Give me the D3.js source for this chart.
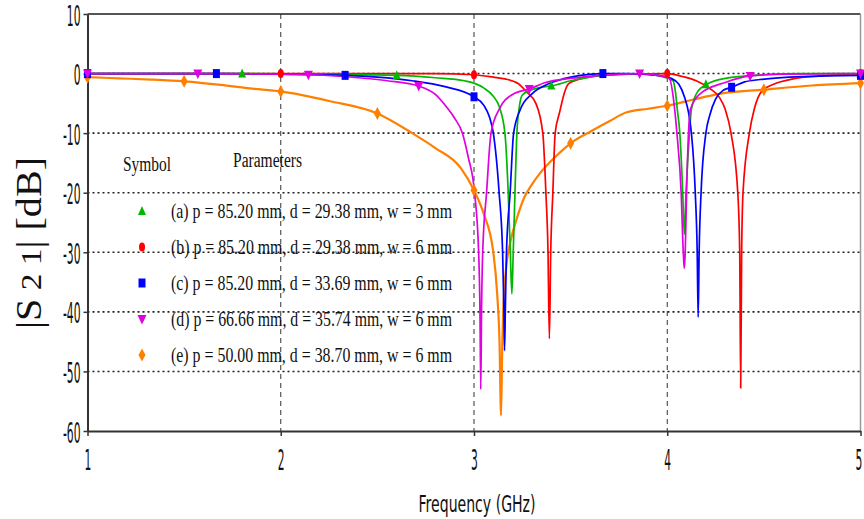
<!DOCTYPE html>
<html>
<head>
<meta charset="utf-8">
<script src="https://cdn.jsdelivr.net/npm/d3@7"></script>
<style>
  html, body { margin: 0; padding: 0; background: #fff; }
  svg { display: block; }
</style>
</head>
<body>
<svg id="chart" width="864" height="519"></svg>
<script>
// |S21| transmission curves (dB) versus frequency (GHz)
const xTicks = [1, 2, 3, 4, 5];
const yTicks = [10, 0, -10, -20, -30, -40, -50, -60];
const gridY = [0, -10, -20, -30, -40, -50];
const gridX = [2, 3, 4];

const seriesA = [[1.0,0],[1.8,0],[2.2,-0.1],[2.6,-0.3],[2.8,-0.7],[2.95,-1.2],[3.0,-1.6],[3.05,-2.4],[3.1,-3.8],[3.13,-5.5],[3.16,-10],[3.177,-20],[3.188,-30],[3.196,-37],[3.203,-30],[3.212,-20],[3.222,-10],[3.235,-5.5],[3.25,-3.6],[3.3,-2.7],[3.35,-2.3],[3.41,-2.0],[3.5,-1.2],[3.6,-0.6],[3.75,-0.1],[3.9,-0.1],[3.97,-0.5],[4.03,-1.2],[4.042,-3],[4.052,-6],[4.065,-10],[4.08,-20],[4.088,-27],[4.097,-20],[4.115,-10],[4.125,-6],[4.16,-2.9],[4.21,-1.7],[4.3,-0.8],[4.5,-0.2],[4.7,0],[5.0,0]];

const seriesB = [[1.0,0],[2.0,0],[2.8,0],[3.0,-0.2],[3.1,-0.6],[3.16,-0.9],[3.23,-1.7],[3.27,-3],[3.32,-5],[3.356,-10],[3.372,-20],[3.383,-30],[3.39,-44.5],[3.397,-30],[3.408,-20],[3.42,-10],[3.443,-6.5],[3.47,-3],[3.49,-1.7],[3.55,-0.9],[3.61,-0.5],[3.8,-0.1],[4.0,0],[4.08,-0.5],[4.15,-1.2],[4.22,-2.5],[4.27,-4],[4.3,-6],[4.33,-10],[4.365,-20],[4.375,-30],[4.38,-52.8],[4.385,-30],[4.392,-20],[4.425,-10],[4.45,-6],[4.49,-2.9],[4.55,-1.8],[4.65,-0.9],[4.8,-0.4],[5.0,0]];

const seriesC = [[1.0,0],[1.667,0],[2.0,-0.1],[2.333,-0.3],[2.5,-0.6],[2.68,-1.2],[2.85,-2.2],[3.0,-3.9],[3.05,-5.3],[3.08,-7.3],[3.1,-10],[3.13,-20],[3.148,-30],[3.155,-40],[3.158,-46.5],[3.162,-40],[3.168,-30],[3.187,-20],[3.205,-10],[3.24,-6],[3.3,-3.4],[3.38,-1.8],[3.46,-0.9],[3.55,-0.3],[3.667,0],[3.8,0],[3.95,-0.3],[4.02,-0.8],[4.06,-1.8],[4.09,-4],[4.11,-6.5],[4.125,-10],[4.145,-20],[4.155,-30],[4.16,-40.9],[4.165,-30],[4.175,-20],[4.2,-10],[4.22,-7],[4.25,-4.3],[4.29,-2.8],[4.333,-2.3],[4.4,-1.4],[4.48,-1.0],[4.7,-0.5],[5.0,-0.3]];

const seriesD = [[1.0,0],[1.571,0],[2.143,-0.2],[2.4,-0.7],[2.55,-1.2],[2.714,-2.1],[2.8,-3.5],[2.86,-5.7],[2.9,-7.5],[2.94,-10],[2.97,-14],[3.003,-20],[3.024,-30],[3.031,-40],[3.035,-53],[3.039,-40],[3.045,-30],[3.065,-20],[3.088,-10],[3.13,-6],[3.2,-3.5],[3.286,-2.6],[3.37,-1.5],[3.5,-0.8],[3.65,-0.3],[3.857,0],[3.95,-0.3],[4.01,-0.8],[4.035,-5],[4.05,-10],[4.072,-20],[4.083,-30],[4.088,-32.7],[4.093,-30],[4.1,-20],[4.11,-10],[4.12,-6],[4.17,-3.4],[4.3,-1.5],[4.429,-0.4],[4.6,-0.1],[5.0,0]];

const seriesE = [[1.0,-0.6],[1.16,-0.8],[1.33,-1.0],[1.5,-1.3],[1.69,-1.9],[1.84,-2.5],[2.0,-3.0],[2.25,-4.6],[2.5,-6.7],[2.68,-10],[2.8,-12.5],[2.93,-15.8],[3.0,-19.6],[3.05,-23.5],[3.1,-30],[3.12,-37],[3.132,-45],[3.14,-57.4],[3.146,-46],[3.152,-39],[3.165,-33],[3.19,-28],[3.22,-24.5],[3.26,-20.8],[3.3,-18.6],[3.34,-16.8],[3.42,-14],[3.5,-11.7],[3.61,-9.6],[3.7,-8],[3.79,-6.5],[3.9,-5.9],[4.0,-5.4],[4.13,-4.4],[4.27,-3.4],[4.5,-2.7],[4.75,-2.0],[5.0,-1.6]];

const markersA = [[1.0,0],[1.8,0],[2.6,-0.3],[3.4,-2.0],[4.2,-1.8],[5.0,0]];
const markersB = [[1,0],[2,0],[3,-0.2],[4,0],[5,0]];
const markersC = [[1,0],[1.667,0],[2.333,-0.3],[3,-3.9],[3.667,0],[4.333,-2.3],[5,-0.3]];
const markersD = [[1,0],[1.571,0],[2.143,-0.2],[2.714,-2.1],[3.286,-2.6],[3.857,0],[4.429,-0.4],[5,0]];
const markersE = [[1,-0.6],[1.5,-1.3],[2,-3.0],[2.5,-6.7],[3,-19.6],[3.5,-11.7],[4,-5.4],[4.5,-2.7],[5,-1.6]];

const legendLabels = [
  "(a) p = 85.20 mm, d = 29.38 mm, w = 3 mm",
  "(b) p = 85.20 mm, d = 29.38 mm, w = 6 mm",
  "(c) p = 85.20 mm, d = 33.69 mm, w = 6 mm",
  "(d) p = 66.66 mm, d = 35.74 mm, w = 6 mm",
  "(e) p = 50.00 mm, d = 38.70 mm, w = 6 mm"
];
const seriesColors = ["#00b800", "#ff0000", "#0000ff", "#e000e0", "#ff8000"];
const markerShapes = ["triUp", "dot", "square", "triDown", "diamond"];

const svg = d3.select("#chart");
const x = d3.scaleLinear().domain([1, 5]).range([87.5, 860.5]);
const y = d3.scaleLinear().domain([-60, 10]).range([431, 14]);

// frame: top border and right border
svg.append("line").attr("x1", x(1)).attr("x2", x(5)).attr("y1", y(10)).attr("y2", y(10))
  .attr("stroke", "#555").attr("stroke-width", 2);
svg.append("line").attr("x1", x(5)).attr("x2", x(5)).attr("y1", y(10)).attr("y2", y(-60))
  .attr("stroke", "#999").attr("stroke-width", 1.5);

// grid
svg.append("g").selectAll("line").data(gridY).join("line")
  .attr("x1", x(1)).attr("x2", x(5)).attr("y1", d => y(d)).attr("y2", d => y(d))
  .attr("stroke", "#222").attr("stroke-width", 1.6).attr("stroke-dasharray", "2,3");
svg.append("g").selectAll("line").data(gridX).join("line")
  .attr("x1", d => x(d)).attr("x2", d => x(d)).attr("y1", y(10)).attr("y2", y(-60))
  .attr("stroke", "#333").attr("stroke-width", 1).attr("stroke-dasharray", "5,4");

// axes; tick labels use a tall, horizontally condensed face
const squeeze = 0.37;
const yAxis = svg.append("g").attr("transform", `translate(${x(1)},0)`)
  .call(d3.axisLeft(y).tickValues(yTicks).tickSize(4).tickSizeOuter(0).tickFormat(d => String(d)));
const xAxis = svg.append("g").attr("transform", `translate(0,${y(-60)})`)
  .call(d3.axisBottom(x).tickValues(xTicks).tickSize(5).tickSizeOuter(0).tickFormat(d => String(d)));
[yAxis, xAxis].forEach(g => {
  g.select(".domain").attr("stroke", "#333").attr("stroke-width", 2);
  g.selectAll(".tick line").attr("stroke", "#333").attr("stroke-width", 1.5);
});
yAxis.selectAll(".tick text")
  .attr("font-family", "DejaVu Sans, sans-serif").attr("font-size", 29).attr("fill", "#111")
  .attr("x", -7 / squeeze).attr("dy", "0.38em")
  .attr("transform", `scale(${squeeze},1)`);
xAxis.selectAll(".tick text")
  .attr("font-family", "DejaVu Sans, sans-serif").attr("font-size", 29).attr("fill", "#111")
  .attr("y", 18).attr("dy", "0.71em")
  .attr("x", d => (d === 5 ? -2 : 0) / squeeze)
  .attr("transform", `scale(${squeeze},1)`);

// axis titles
svg.append("text").attr("x", 477).attr("y", 512).attr("text-anchor", "middle")
  .attr("font-family", "DejaVu Sans, sans-serif").attr("font-size", 23).attr("fill", "#111")
  .attr("textLength", 117).attr("lengthAdjust", "spacingAndGlyphs")
  .text("Frequency (GHz)");

const yTitle = svg.append("text")
  .attr("transform", "translate(41,243) rotate(-90)")
  .attr("text-anchor", "middle")
  .attr("font-family", "Liberation Serif, serif").attr("font-size", 36).attr("fill", "#111")
  .attr("textLength", 172).attr("lengthAdjust", "spacingAndGlyphs");
yTitle.append("tspan").text("|S");
yTitle.append("tspan").attr("font-size", 30).text(" 2 1");
yTitle.append("tspan").text("| [dB]");

// curves
const line = d3.line().x(d => x(d[0])).y(d => y(d[1])).curve(d3.curveMonotoneX);
const allSeries = [seriesA, seriesB, seriesC, seriesD, seriesE];
const allMarkers = [markersA, markersB, markersC, markersD, markersE];
const drawOrder = [4, 1, 0, 2, 3];

function shapePath(kind) {
  switch (kind) {
    case "triUp": return "M0,-5L4,4L-4,4Z";
    case "triDown": return "M-4.5,-4L4.5,-4L0,5.5Z";
    case "square": return "M-3.5,-4.5H3.5V4.5H-3.5Z";
    case "diamond": return "M0,-6.5L3.5,0L0,6.5L-3.5,0Z";
    default: return "M0,-4.5A3,4.5 0 1,0 0,4.5A3,4.5 0 1,0 0,-4.5Z";
  }
}

const plot = svg.append("g");
drawOrder.forEach(i => {
  plot.append("path").datum(allSeries[i])
    .attr("d", line).attr("fill", "none")
    .attr("stroke", seriesColors[i]).attr("stroke-width", i === 4 ? 2.2 : 1.7)
    .attr("stroke-linejoin", "round");
});
drawOrder.forEach(i => {
  plot.append("g").selectAll("path").data(allMarkers[i]).join("path")
    .attr("transform", d => `translate(${x(d[0])},${y(d[1])})`)
    .attr("d", shapePath(markerShapes[i]))
    .attr("fill", seriesColors[i]);
});

// legend
const legend = svg.append("g");
legend.append("text").attr("x", 123).attr("y", 171)
  .attr("font-family", "Liberation Serif, serif").attr("font-size", 20).attr("fill", "#111")
  .attr("textLength", 48).attr("lengthAdjust", "spacingAndGlyphs").text("Symbol");
legend.append("text").attr("x", 233).attr("y", 167)
  .attr("font-family", "Liberation Serif, serif").attr("font-size", 20).attr("fill", "#111")
  .attr("textLength", 69).attr("lengthAdjust", "spacingAndGlyphs").text("Parameters");
const rowY = [211, 247, 283, 319, 355];
legendLabels.forEach((lab, i) => {
  legend.append("path")
    .attr("transform", `translate(142,${rowY[i]})`)
    .attr("d", shapePath(markerShapes[i]))
    .attr("fill", seriesColors[i]);
  legend.append("text").attr("x", 171).attr("y", rowY[i] + 7)
    .attr("font-family", "Liberation Serif, serif").attr("font-size", 22).attr("fill", "#111")
    .attr("textLength", 281).attr("lengthAdjust", "spacingAndGlyphs").text(lab);
});
</script>
</body>
</html>
